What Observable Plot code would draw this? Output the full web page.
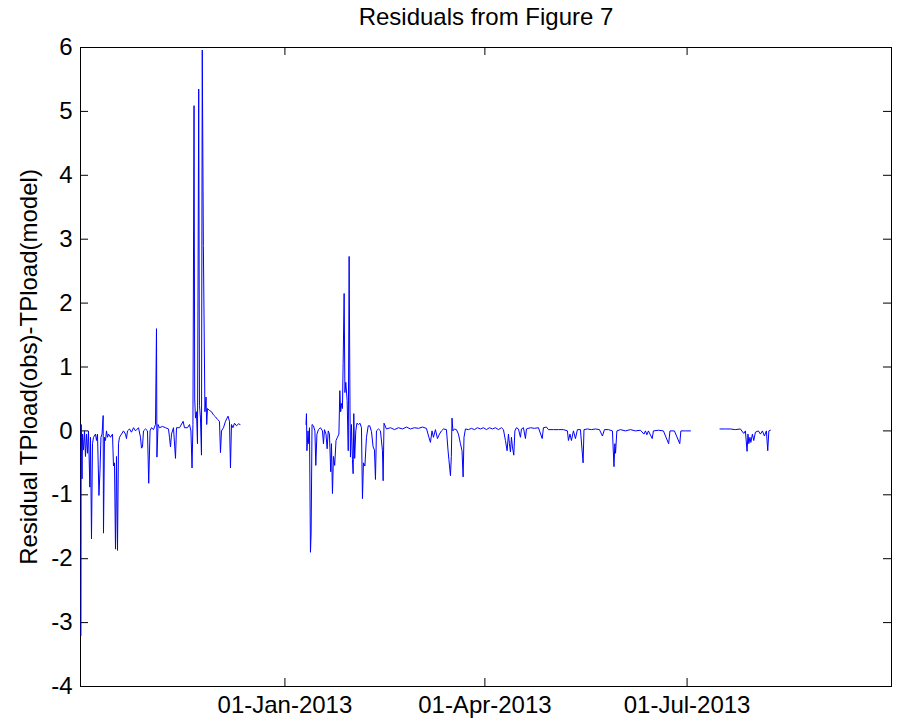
<!DOCTYPE html>
<html>
<head>
<meta charset="utf-8">
<script src="https://cdn.jsdelivr.net/npm/d3@7"></script>
<script src="https://cdn.jsdelivr.net/npm/@observablehq/plot@0.6"></script>
<style>
  html, body { margin: 0; padding: 0; background: #fff; }
  #chart svg { display: block; }
</style>
</head>
<body>
<div id="chart"></div>
<script>
// Residual series: days since 01-Oct-2012 and residual TP load (obs - model).
// null marks a break in the record.
const recordStart = Date.UTC(2012, 9, 1);

const days = [
  0.2, 0.3, 0.45, 0.7, 0.9, 1.35, 1.8, 2.25, 2.7, 3.15, 3.6, 4.2, 4.5, 4.95, 5.4, 5.85,
  6.75, 7.2, 7.65, 8.3, 8.8, 9.2, 9.7, 10.2, 10.35, 10.8, 11.25, 11.7, 12.15, 12.6, 13.5,
  14.4, 14.85, 15.3, 15.75, 16.2, 16.65, 17.1, 17.55, 18.45, 19.35, 20.25, 20.7, 21.15,
  22.05, 22.95, 23.85, 24.75, 26.1, 27.0, 27.45, 27.9, 28.35, 29.25, 30.15, 30.7, 31.3,
  31.95, 32.85, 33.75, 34.2, 34.4, 34.9, 35.55, 36.9, 38.25, 39.6, 40.05, 40.5, 40.95,
  41.85, 42.75, 43.2, 44.55, 46.2, 46.8, 48.15, 49.05, 49.7, 50.2, 50.6, 51.1, 51.4,
  51.75, 52.2, 52.65, 53.2, 53.55, 54.0, 54.45, 54.8, 55.3, 56.0, 56.5, 56.8, 57.15,
  58.05, 58.95, 59.85, 60.75, 61.65, 62.55, 63.0, 63.45, 64.35, 65.25, 66.4, 67.05,
  67.5, 67.95, 68.6, 69.3, 70.2, 71.1, 71.8,
  86.0,
  101.5, 101.7, 101.9, 102.4, 102.7, 103.05, 103.5, 103.8, 104.2, 104.85, 105.5, 105.9,
  106.4, 107.1, 108.0, 108.9, 109.35, 109.8, 110.5, 111.0, 111.5, 112.05, 112.6, 112.95,
  113.4, 113.85, 114.4, 115.0, 115.65, 116.3, 116.7, 117.1, 117.45, 117.9, 118.2, 118.65,
  119.0, 119.4, 120.0, 120.5, 120.9, 121.3, 121.5, 121.95, 122.4, 122.7, 123.0, 123.4,
  123.9, 124.4, 125.1, 125.8, 126.45, 126.9, 127.35, 128.0, 128.7, 129.5, 130.2, 130.95,
  131.7, 132.3, 132.75, 133.2, 134.1, 135.0, 135.9, 136.2, 136.6, 137.7, 139.5, 141.3,
  143.1, 144.9, 146.7, 148.5, 150.3, 152.1, 153.9, 155.7, 156.8, 157.5, 158.2, 158.85,
  159.75, 160.65, 161.55, 162.45, 163.35, 164.7, 165.4, 165.8, 166.5, 166.9, 167.2,
  167.6, 168.3, 169.2, 170.1, 171.0, 171.7, 172.2, 172.6, 173.25, 174.6, 175.95, 177.3,
  178.65, 180.0, 181.35, 182.7, 184.05, 185.4, 186.75, 188.1, 189.45, 190.35, 191.25,
  192.0, 192.6, 193.05, 193.5, 193.95, 194.4, 195.0, 195.5, 196.2, 197.1, 198.0, 198.45,
  199.35, 200.25, 200.7, 202.5, 204.3, 206.1, 207.8, 208.35, 209.7, 210.6, 212.85, 215.1,
  217.35, 219.15, 219.6, 220.3, 220.95, 221.85, 222.75, 223.65, 225.0, 226.2, 226.6,
  228.15, 229.95, 231.75, 233.55, 234.9, 235.8, 237.6, 239.4, 240.1, 240.5, 240.8, 241.4,
  243.0, 245.25, 247.5, 249.75, 252.0, 253.6, 254.25, 254.9, 255.6, 257.3, 257.85, 260.1,
  262.35, 264.7, 265.3, 267.3, 269.7, 270.2, 272.25, 274.5,
  281.0,
  287.8, 290.25, 292.5, 294.75, 297.0, 298.5, 299.25, 300.0, 300.4, 300.8, 301.3, 301.7,
  302.4, 303.0, 303.75, 305.1, 306.0, 306.9, 307.8, 308.7, 309.3, 309.8, 310.5
];

const residuals = [
  -3.2, 0.1, -0.1, -0.75, -0.05, -0.3, 0.0, -0.4, -0.05, -0.35, 0.0, -0.88, -0.1, -1.69, -0.2, -0.1,
  -0.05, -0.15, -0.05, -1.01, -0.6, -0.1, -0.05, 0.24, -1.6, -0.1, -0.15, 0.0, -0.1, -0.05, -0.1,
  -0.05, -0.55, -0.5, -1.85, -0.4, -1.87, -0.2, -0.1, -0.05, 0.0, -0.05, -0.12, 0.0,
  0.03, -0.02, 0.05, 0.0, 0.05, -0.1, -0.27, -0.25, 0.0, 0.03, 0.0, -0.82, 0.0,
  0.05, 0.02, 0.1, 1.6, -0.41, 0.1, 0.05, 0.07, 0.05, 0.03, -0.1, -0.25, -0.05,
  0.05, -0.43, 0.05, 0.05, 0.15, 0.05, 0.05, 0.1, 0.0, -0.58, 0.1, 5.09, 0.5,
  0.2, 0.3, -0.2, 5.35, 0.4, 0.2, -0.38, 5.96, 2.9, 0.3, 0.53, 0.1, 0.35,
  0.32, 0.3, 0.25, 0.22, 0.18, 0.15, -0.34, 0.0, 0.05, 0.15, 0.23, 0.15,
  -0.58, 0.1, 0.05, 0.12, 0.08, 0.11, 0.1,
  null,
  0.1, 0.27, -0.31, 0.0, -0.2, 0.05, -1.9, -1.6, 0.1, 0.08, 0.0, -0.54,
  -0.05, 0.02, 0.05, 0.0, -0.2, 0.02, -0.05, -0.28, 0.0, -0.05, -0.64, -0.2,
  -0.98, -0.4, -0.54, -0.15, -0.1, -0.05, 0.63, 0.3, 0.43, 0.35, 1.05, 2.15,
  0.6, 0.76, 0.48, -0.31, 2.73, 0.3, -0.41, 0.1, -0.45, -0.67, 0.27, -0.43,
  0.0, 0.12, 0.1, 0.12, 0.05, -1.06, -0.5, -0.55, -0.1, 0.08, 0.08, -0.01,
  -0.25, -0.3, -0.76, 0.0, 0.03, 0.0, -0.31, -0.78, 0.12, 0.03, 0.05, 0.02,
  0.05, 0.03, 0.06, 0.03, 0.05, 0.04, 0.06, 0.04, -0.1, -0.18, 0.0, -0.1,
  0.02, -0.12, -0.05, 0.0, 0.03, 0.02, -0.3, -0.45, -0.7, -0.4, 0.2,
  0.0, 0.03, 0.02, -0.05, -0.2, -0.31, -0.72, -0.1, 0.03, 0.02, 0.04, 0.02,
  0.05, 0.03, 0.05, 0.02, 0.05, 0.03, 0.05, 0.02, 0.05, 0.02, -0.15,
  -0.31, -0.05, -0.2, -0.33, -0.1, -0.25, -0.38, 0.0, 0.05, 0.03, -0.1, 0.03,
  0.05, -0.12, 0.03, 0.05, 0.04, 0.05, -0.12, 0.05, 0.06, 0.02, 0.02, 0.02,
  0.02, 0.0, -0.15, -0.05, -0.15, 0.0, -0.12, 0.02, 0.02, -0.5, 0.02,
  0.03, 0.02, 0.03, 0.02, -0.08, 0.02, 0.02, 0.0, -0.56, -0.2, -0.35, 0.0,
  0.02, 0.0, 0.02, 0.0, 0.01, -0.05, 0.0, -0.06, 0.0, -0.12, 0.0, 0.01,
  0.0, -0.2, 0.0, 0.0, -0.2, 0.0, 0.0, 0.0,
  null,
  0.03, 0.03, 0.03, 0.02, 0.03, -0.04, 0.0, -0.32, -0.05, -0.2, -0.1, -0.18,
  -0.05, -0.15, -0.02, 0.0, -0.05, 0.0, -0.08, 0.0, -0.31, 0.0, 0.01
];

const yTicks = [-4, -3, -2, -1, 0, 1, 2, 3, 4, 5, 6];
const xTickDates = ["2013-01-01", "2013-04-01", "2013-07-01"];
const xTickLabels = ["01-Jan-2013", "01-Apr-2013", "01-Jul-2013"];

const titleText = "Residuals from Figure 7";
const yLabelText = "Residual TPload(obs)-TPload(model)";

const series = days.map((d, i) => ({
  date: new Date(recordStart + d * 864e5),
  value: residuals[i] == null ? NaN : residuals[i]
}));
const xTicks = xTickDates.map(s => new Date(s + "T00:00:00Z"));
const labelFor = new Map(xTicks.map((t, i) => [+t, xTickLabels[i]]));

const W = 907, H = 727;
const mL = 80, mR = 16, mT = 47, mB = 41;
const innerW = W - mL - mR, innerH = H - mT - mB;
const tickLen = 8;
const fs = 24;

const chart = Plot.plot({
  width: W,
  height: H,
  marginLeft: mL,
  marginRight: mR,
  marginTop: mT,
  marginBottom: mB,
  style: {fontFamily: "'Liberation Sans', Arial, sans-serif", fontSize: fs + "px", background: "#fff", color: "#000"},
  x: {type: "utc", domain: [new Date(recordStart), new Date(Date.UTC(2013, 9, 1))]},
  y: {domain: [-4, 6]},
  marks: [
    Plot.frame({stroke: "#000", strokeWidth: 1}),
    // inward tick marks on all four sides
    Plot.tickY(yTicks, {y: d => d, stroke: "#000", insetRight: innerW - tickLen}),
    Plot.tickY(yTicks, {y: d => d, stroke: "#000", insetLeft: innerW - tickLen}),
    Plot.tickX(xTicks, {x: d => d, stroke: "#000", insetTop: innerH - tickLen}),
    Plot.tickX(xTicks, {x: d => d, stroke: "#000", insetBottom: innerH - tickLen}),
    Plot.line(series, {x: "date", y: "value", stroke: "#0000ff", strokeWidth: 1}),
    Plot.axisY({ticks: yTicks, tickSize: 0, tickPadding: 8, tickFormat: d => String(d), label: null, fontSize: fs}),
    Plot.axisX({ticks: xTicks, tickSize: 0, tickPadding: 9, tickFormat: d => labelFor.get(+d), label: null, fontSize: fs}),
    Plot.text([titleText], {text: d => d, frameAnchor: "top", lineAnchor: "middle", dy: -30, fontSize: fs}),
    Plot.text([yLabelText], {text: d => d, frameAnchor: "left", rotate: -90, dx: -51, fontSize: fs, textAnchor: "middle"})
  ]
});

document.getElementById("chart").appendChild(chart);
</script>
</body>
</html>
